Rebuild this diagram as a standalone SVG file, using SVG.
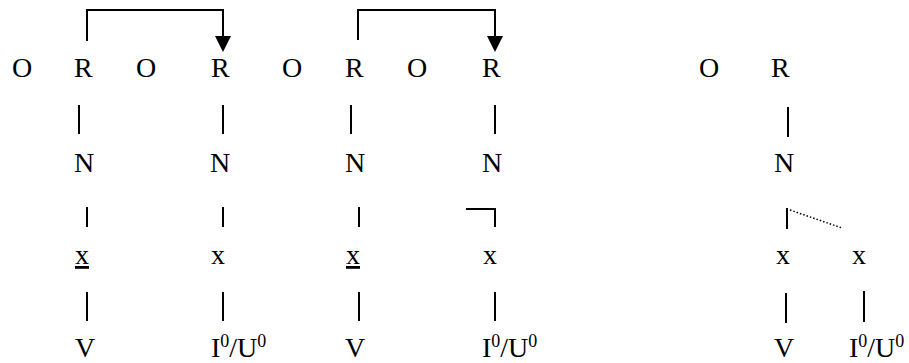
<svg xmlns="http://www.w3.org/2000/svg" width="909" height="363" viewBox="0 0 909 363">
<style>
text{font-family:"Liberation Serif","Times New Roman",serif;font-size:28px;fill:#000}
.sup{font-size:18px}
.ln{stroke:#000;stroke-width:2;fill:none}
.dot{stroke:#000;stroke-width:1.5;stroke-dasharray:1.5 2;fill:none}
</style>
<g id="connectors">
<path class="ln" d="M87,41 V10 H223 V36"/>
<path d="M215,36 L231,36 L223,52 Z" fill="#000"/>
<path class="ln" d="M358,40 V10 H495 V36"/>
<path d="M487,36 L503,36 L495,52 Z" fill="#000"/>
<line class="ln" x1="79" y1="105" x2="79" y2="134"/>
<line class="ln" x1="87" y1="207" x2="87" y2="227"/>
<line class="ln" x1="87" y1="292" x2="87" y2="321"/>
<line class="ln" x1="223" y1="105" x2="223" y2="134"/>
<line class="ln" x1="223" y1="207" x2="223" y2="227"/>
<line class="ln" x1="223" y1="292" x2="223" y2="321"/>
<line class="ln" x1="351" y1="105" x2="351" y2="134"/>
<line class="ln" x1="359" y1="207" x2="359" y2="227"/>
<line class="ln" x1="359" y1="292" x2="359" y2="321"/>
<line class="ln" x1="495" y1="105" x2="495" y2="134"/>
<path class="ln" d="M466,209 H495 V227"/>
<line class="ln" x1="495" y1="292" x2="495" y2="321"/>
<line class="ln" x1="788" y1="107" x2="788" y2="137"/>
<line class="ln" x1="787" y1="208" x2="787" y2="229"/>
<line class="dot" x1="790" y1="210" x2="842" y2="228"/>
<line class="ln" x1="786" y1="293" x2="786" y2="323"/>
<line class="ln" x1="864" y1="291" x2="864" y2="322"/>
</g>
<g id="row1">
<text x="12" y="77">O</text>
<text x="74" y="77">R</text>
<text x="136" y="77">O</text>
<text x="211" y="77">R</text>
<text x="282" y="77">O</text>
<text x="345" y="77">R</text>
<text x="407" y="77">O</text>
<text x="482" y="77">R</text>
<text x="699" y="77">O</text>
<text x="771" y="77">R</text>
</g>
<g id="rowN">
<text x="74" y="172">N</text>
<text x="210" y="172">N</text>
<text x="345" y="172">N</text>
<text x="482" y="172">N</text>
<text x="774" y="172">N</text>
</g>
<g id="rowX">
<text x="75" y="264" text-decoration="underline">x</text>
<text x="211" y="264">x</text>
<text x="346" y="264" text-decoration="underline">x</text>
<text x="483" y="264">x</text>
<text x="776" y="264">x</text>
<text x="852" y="264">x</text>
</g>
<g id="rowV">
<text x="75" y="357">V</text>
<text x="211" y="357">I<tspan class="sup" dy="-10">0</tspan><tspan dy="10">/U</tspan><tspan class="sup" dy="-10">0</tspan></text>
<text x="345" y="357">V</text>
<text x="482" y="357">I<tspan class="sup" dy="-10">0</tspan><tspan dy="10">/U</tspan><tspan class="sup" dy="-10">0</tspan></text>
<text x="774" y="357">V</text>
<text x="849" y="357">I<tspan class="sup" dy="-10">0</tspan><tspan dy="10">/U</tspan><tspan class="sup" dy="-10">0</tspan></text>
</g>
</svg>
